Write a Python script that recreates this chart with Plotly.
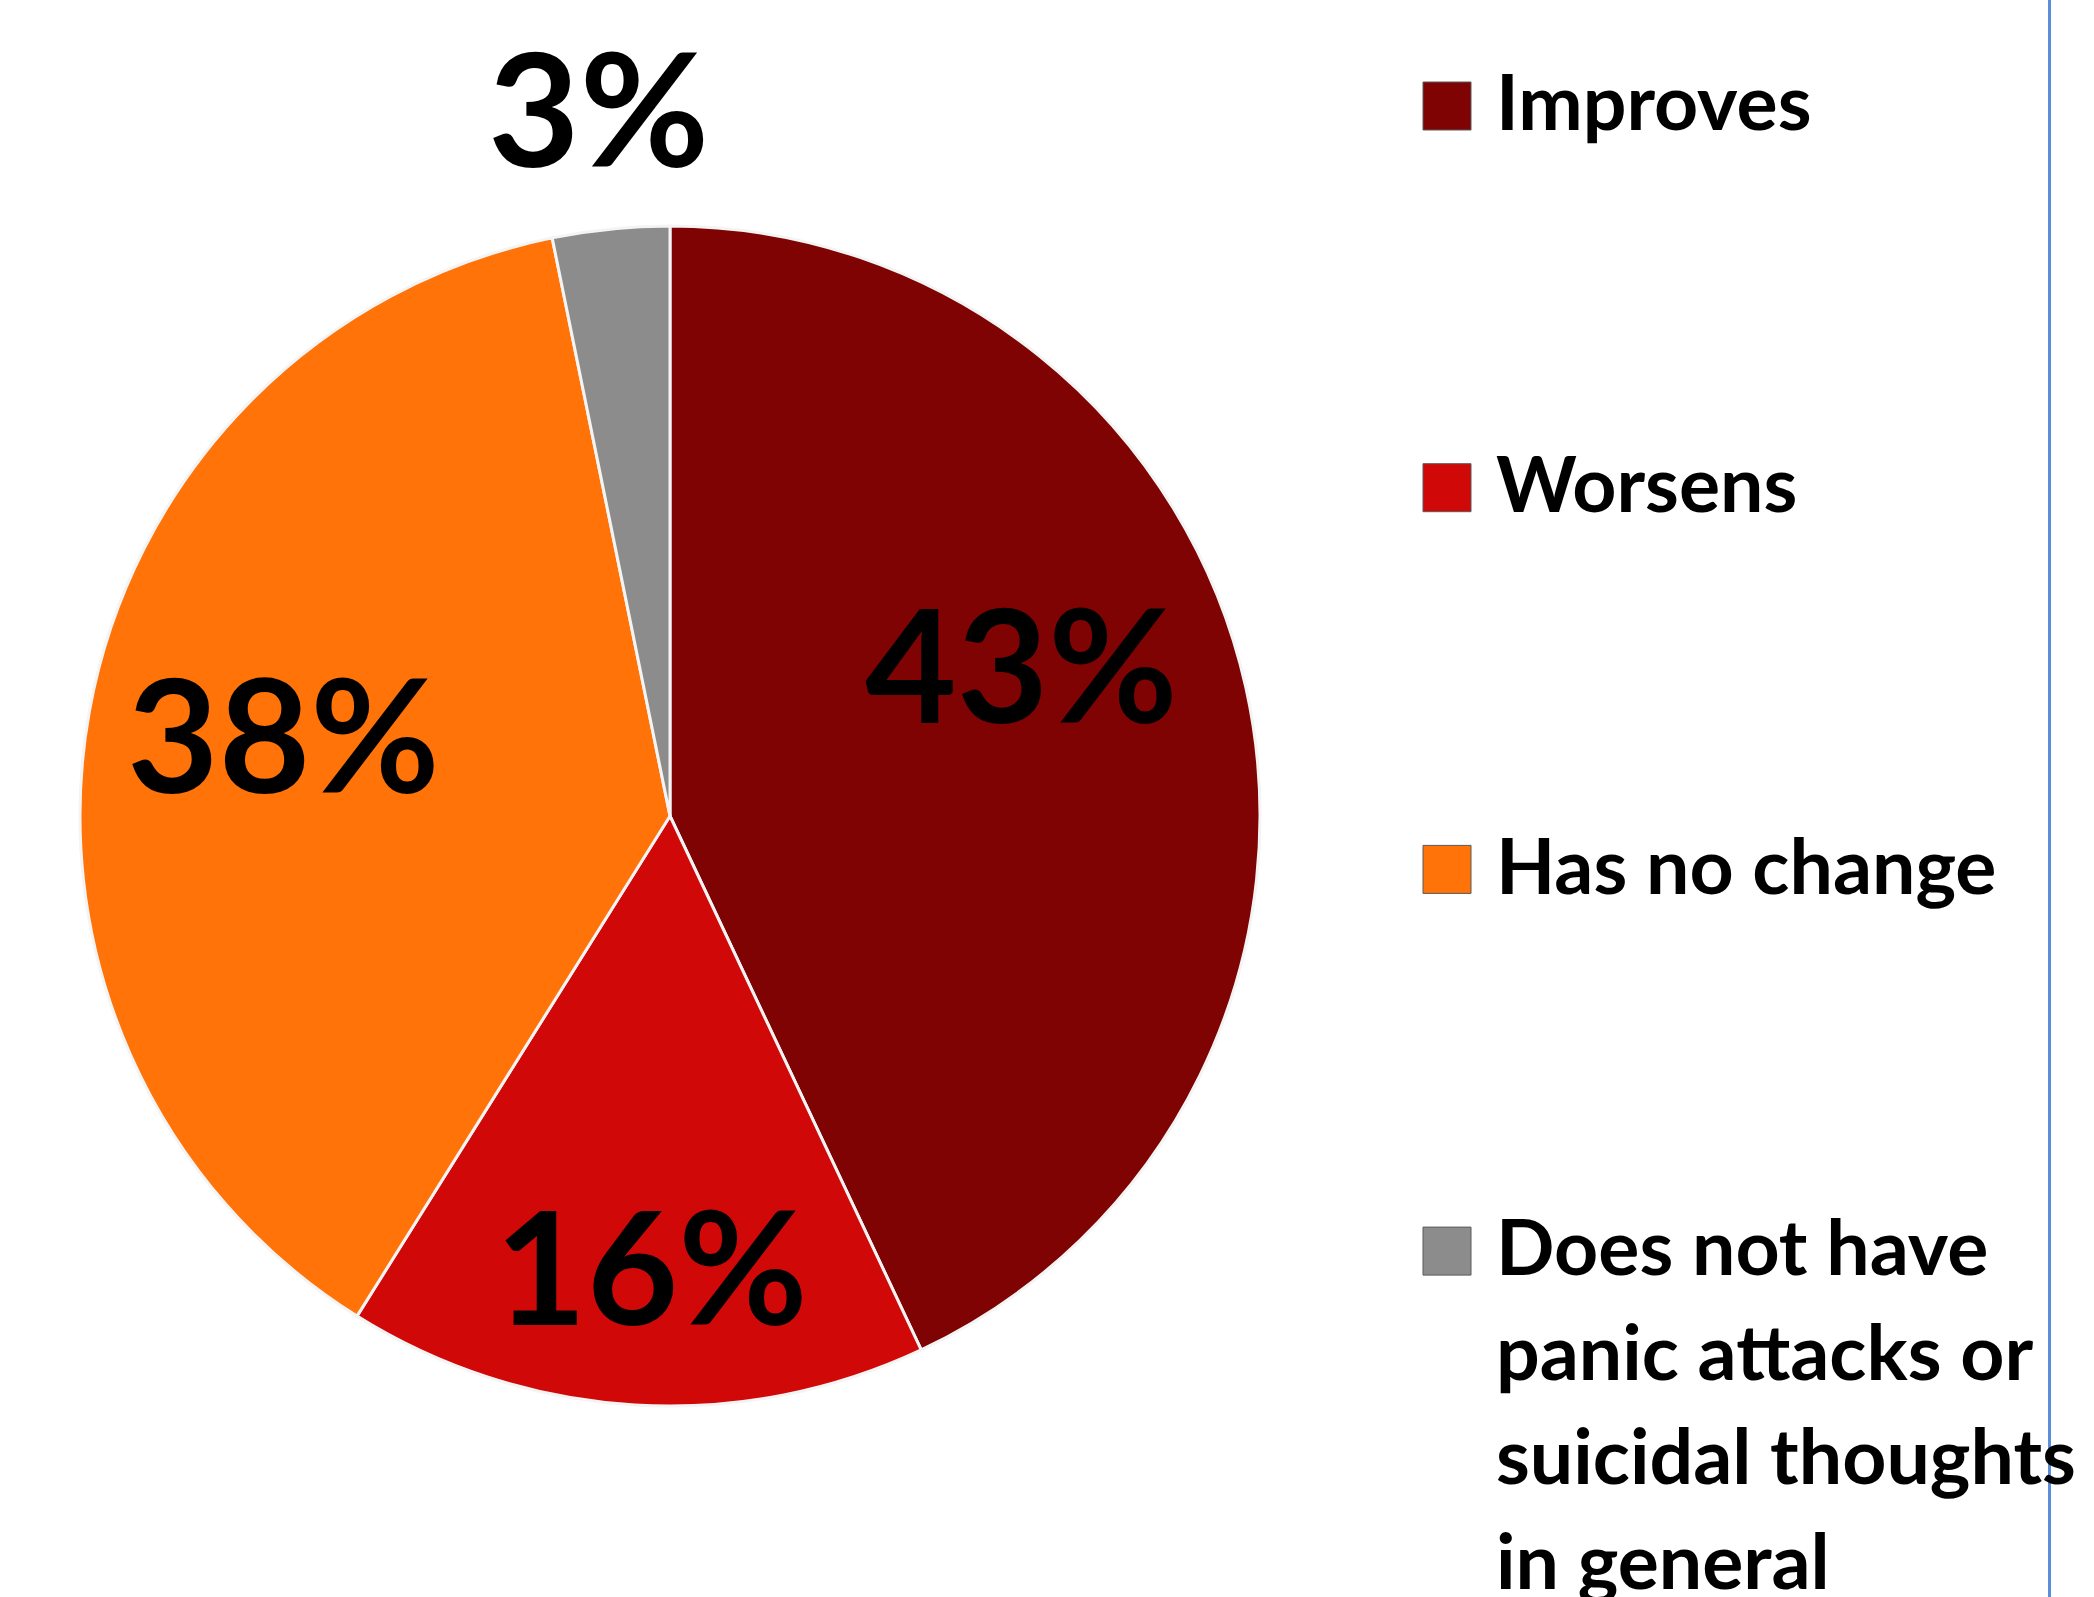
import math
import plotly.graph_objects as go

# ---------------- data ----------------
categories = ["Improves", "Worsens", "Has no change",
              "Does not have panic attacks or suicidal thoughts in general"]
legend_lines = [["Improves"], ["Worsens"], ["Has no change"],
                ["Does not have", "panic attacks or", "suicidal thoughts", "in general"]]
values = [43.0, 15.9, 37.9, 3.2]

# ---------------- style ----------------
colors = ["#7F0303", "#D10808", "#FF7308", "#8C8C8C"]
W, H = 2094, 1597
CX, CY, R = 670, 816, 590            # pie centre / radius in pixels
label_rfrac = [0.65, 0.76, 0.67, 1.21]   # radial placement of % labels
label_nudge = [-11, -1, 2, 0]            # angular nudge (deg) for best-fit look
PCT_SIZE = 158
LEG_SIZE = 77
FONT = "Lato"

fig = go.Figure()
fig.add_trace(go.Pie(
    labels=categories, values=values, sort=False, direction="clockwise",
    rotation=0, textinfo="none", showlegend=False,
    marker=dict(colors=colors, line=dict(color="#F4F4F4", width=3)),
    domain=dict(x=[(CX - R) / W, (CX + R) / W],
                y=[(H - (CY + R)) / H, (H - (CY - R)) / H]),
))

annotations = []
shapes = []

# percentage labels, positioned from the slice mid-angles
total = sum(values)
cum = 0
for i, v in enumerate(values):
    mid = (cum + v / 2) / total * 360 + label_nudge[i]
    cum += v
    r = R * label_rfrac[i]
    px = CX + r * math.sin(math.radians(mid))
    py = CY - r * math.cos(math.radians(mid))
    annotations.append(dict(
        x=px / W, y=1 - py / H, xref="paper", yref="paper",
        text=f"{round(v / total * 100)}%", showarrow=False,
        xanchor="center", yanchor="middle",
        font=dict(family=FONT, size=PCT_SIZE, color="#000000", weight=700)))

# legend (manual, to match spacing)
LEG_BASE0, LEG_STEP, LINE_STEP = 130, 381.7, 104.5
SQ_X0, SQ_X1, SQ = 1423, 1471, 48
TXT_X = 1494
for i, lines in enumerate(legend_lines):
    base = LEG_BASE0 + i * LEG_STEP
    shapes.append(dict(type="rect", xref="paper", yref="paper",
                       x0=SQ_X0 / W, x1=SQ_X1 / W,
                       y0=1 - base / H, y1=1 - (base - SQ) / H,
                       fillcolor=colors[i], line=dict(color="#5a5a5a", width=1)))
    for k, t in enumerate(lines):
        b = base + k * LINE_STEP
        annotations.append(dict(
            x=TXT_X / W, y=1 - (b - 0.387 * LEG_SIZE) / H,
            xref="paper", yref="paper", text=t, showarrow=False,
            xanchor="left", yanchor="middle",
            font=dict(family=FONT, size=LEG_SIZE, color="#000000", weight=700)))

# blue vertical line at right
shapes.append(dict(type="line", xref="paper", yref="paper",
                   x0=2049.5 / W, x1=2049.5 / W, y0=0, y1=1,
                   line=dict(color="#5B8FD9", width=3), layer="above"))

fig.update_layout(
    width=W, height=H, margin=dict(l=0, r=0, t=0, b=0),
    paper_bgcolor="white", plot_bgcolor="white",
    annotations=annotations, shapes=shapes, showlegend=False,
)

fig.write_html("out.html", config={"displayModeBar": False},
               post_script="document.body.style.margin='0';document.body.style.overflow='hidden';")
